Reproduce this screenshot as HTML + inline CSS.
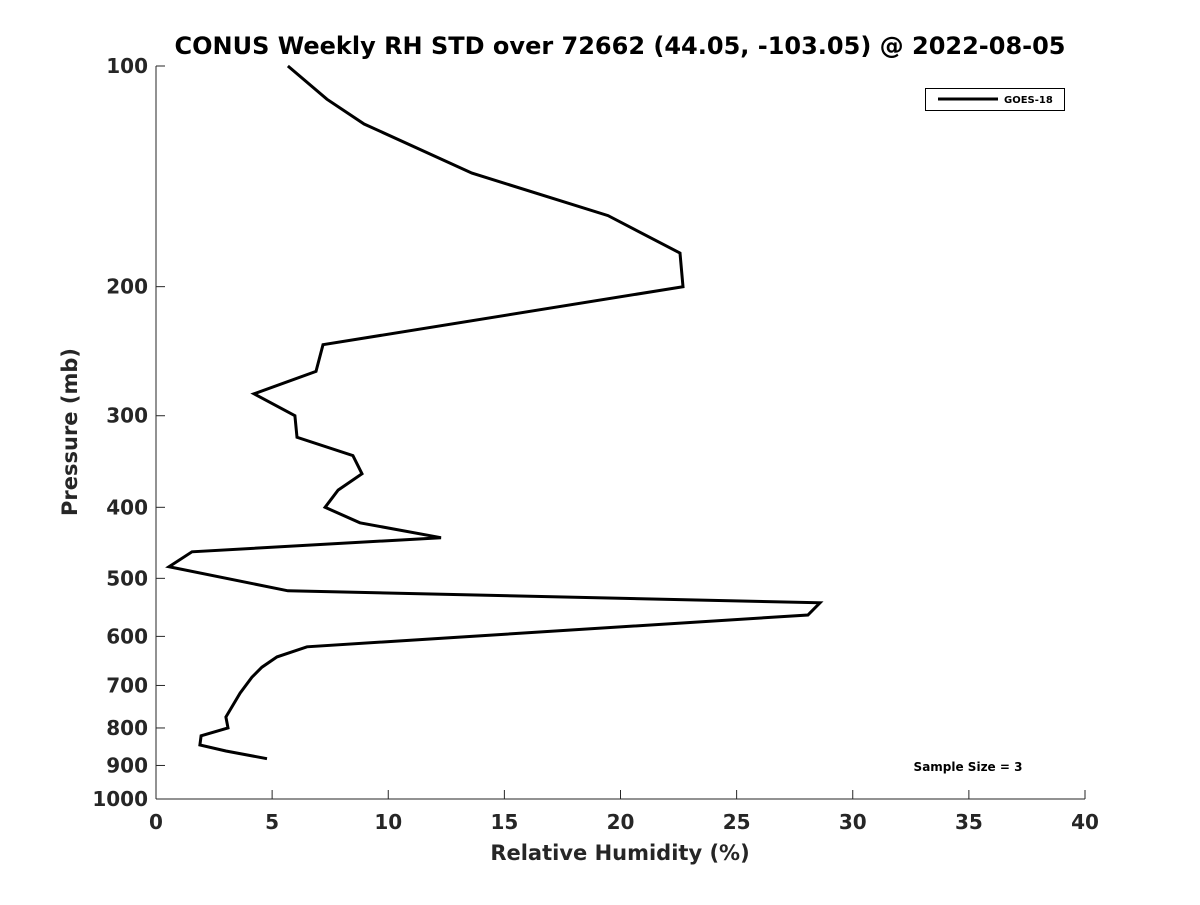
<!DOCTYPE html>
<html><head><meta charset="utf-8"><style>
body{margin:0;background:#fff;}
svg text{font-family:"DejaVu Sans","Liberation Sans",sans-serif;font-weight:bold;fill:#262626;}
</style></head><body>
<svg id="chart" width="1200" height="900" xmlns="http://www.w3.org/2000/svg">
<rect width="1200" height="900" fill="#fff"/>
<text x="620" y="54" font-size="24" text-anchor="middle" style="fill:#000">CONUS Weekly RH STD over 72662 (44.05, -103.05) @ 2022-08-05</text>
<g id="axes"></g>
<path id="series" fill="none" stroke="#000" stroke-width="3" stroke-linejoin="miter"/>
<g>
<rect x="925.5" y="88.5" width="139" height="22" fill="#fff" stroke="#000" stroke-width="1"/>
<line x1="938" y1="99" x2="998" y2="99" stroke="#000" stroke-width="3"/>
<text x="1004" y="103" font-size="10" style="fill:#000">GOES-18</text>
</g>
<text x="968" y="771" font-size="12" text-anchor="middle" style="fill:#000">Sample Size = 3</text>
<text x="620" y="860" font-size="21" text-anchor="middle">Relative Humidity (%)</text>
<text transform="translate(77,432) rotate(-90)" font-size="21" text-anchor="middle">Pressure (mb)</text>
</svg>
<script>
const rhValues=[5.68,7.36,8.96,13.6,19.46,22.56,22.69,7.19,6.89,4.22,5.98,6.07,8.48,8.87,7.84,7.28,8.78,12.27,1.55,0.56,5.68,28.59,28.07,6.5,5.21,4.56,4.13,3.62,3.01,3.1,1.94,1.89,3.01,4.78];
const pressures=[100,111,120,140,160,180,200,240,261,280,300,321,340,360,379,400,420,440,460,482,520,540,561,620,640,661,682,717,773,800,820,844,860,881];
const xTicks=[0,5,10,15,20,25,30,35,40];
const yTicks=[100,200,300,400,500,600,700,800,900,1000];
const X0=156,X1=1085,Y0=66,Y1=799;
const xs=v=>X0+(v/40)*(X1-X0);
const ys=p=>Y0+Math.log10(p/100)*(Y1-Y0);
const ns="http://www.w3.org/2000/svg";
const ax=document.getElementById('axes');
function mk(t,a){const e=document.createElementNS(ns,t);for(const k in a)e.setAttribute(k,a[k]);ax.appendChild(e);return e;}
const xl=mk('line',{x1:X0,y1:Y1,x2:X1,y2:Y1,stroke:'#262626','stroke-width':1});


const yl=mk('line',{x1:X0,y1:Y0,x2:X0,y2:Y1,stroke:'#262626','stroke-width':1});


xTicks.forEach(v=>{
 mk('line',{x1:xs(v),y1:Y1,x2:xs(v),y2:Y1-9,stroke:'#262626'});
 const t=mk('text',{x:xs(v),y:Y1+30,'font-size':20,'text-anchor':'middle'});t.textContent=v;
 
 
});
yTicks.forEach(p=>{
 mk('line',{x1:X0,y1:ys(p),x2:X0+9,y2:ys(p),stroke:'#262626'});
 const t=mk('text',{x:X0-8,y:ys(p)+7,'font-size':20,'text-anchor':'end'});t.textContent=p;
 
 
});
document.getElementById('series').setAttribute('d',rhValues.map((v,i)=>(i?'L':'M')+xs(v).toFixed(1)+','+ys(pressures[i]).toFixed(1)).join(''));
</script>
</body></html>
